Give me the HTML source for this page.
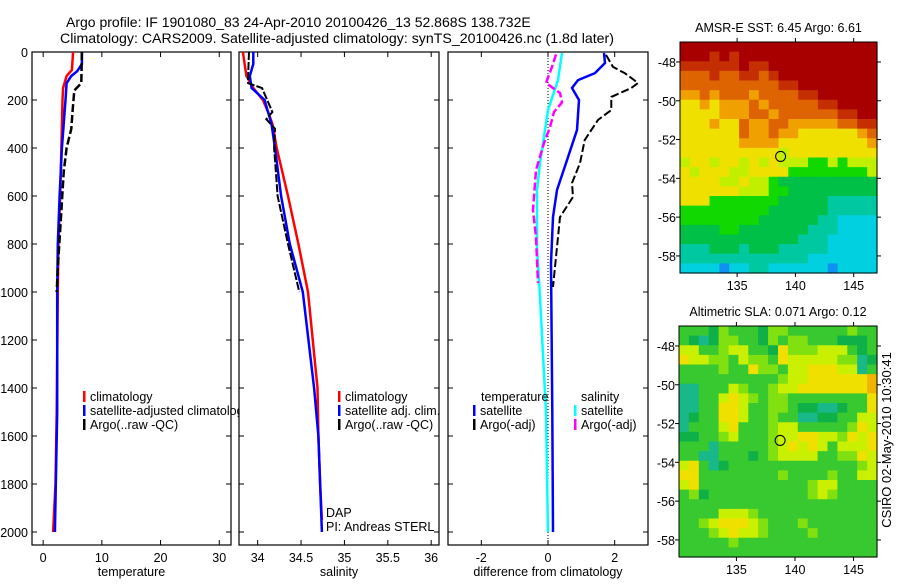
<!DOCTYPE html>
<html><head><meta charset="utf-8"><style>
html,body{margin:0;padding:0;background:#fff;}
svg text{font-family:"Liberation Sans",sans-serif;fill:#000;}
</style></head><body>
<svg id="fig" width="900" height="580" viewBox="0 0 900 580" xmlns="http://www.w3.org/2000/svg">
<text x="66" y="27" font-size="14">Argo profile: IF 1901080_83 24-Apr-2010 20100426_13 52.868S 138.732E</text>
<text x="60" y="43" font-size="14" textLength="554" lengthAdjust="spacingAndGlyphs">Climatology: CARS2009. Satellite-adjusted climatology: synTS_20100426.nc (1.8d later)</text>
<g id="g1"></g>
<g id="g2"></g>
<g id="g3"></g>
<g id="m1"></g>
<g id="m2"></g>
<text transform="translate(891,440) rotate(-90)" font-size="13" text-anchor="middle">CSIRO 02-May-2010 10:30:41</text>
</svg>
<script>
// ---- profile data ----
const tClimDepth = [0,75,100,150,200,400,600,800,1000,1500,1800,2000];
const tClimVal   = [5.1,4.9,4.0,3.4,3.3,3.1,2.9,2.6,2.5,2.3,2.1,1.7];
const tSatDepth  = [0,50,80,100,130,200,300,400,600,800,1000,1500,2000];
const tSatVal    = [6.6,6.6,5.8,4.8,4.0,3.8,3.5,3.2,2.8,2.5,2.4,2.4,2.0];
const tArgoDepth = [0,130,160,250,320,400,500,700,900,1000];
const tArgoVal   = [6.6,6.5,5.3,5.0,4.8,4.0,3.5,3.0,2.5,2.3];

const sClimDepth = [0,100,150,200,250,300,400,600,800,1000,1400,1600,1800,1950];
const sClimVal   = [33.83,33.87,33.95,34.06,34.12,34.17,34.22,34.35,34.47,34.58,34.69,34.70,34.72,34.74];
const sSatDepth  = [0,50,100,150,200,300,400,600,800,1000,1400,1600,2000];
const sSatVal    = [33.95,33.95,33.91,33.93,34.08,34.16,34.20,34.27,34.37,34.52,34.65,34.70,34.74];
const sArgoDepth = [0,100,130,150,200,250,280,320,400,500,600,800,1000];
const sArgoVal   = [33.9,33.89,33.89,34.05,34.11,34.17,34.10,34.20,34.19,34.21,34.23,34.35,34.48];

const dTSatDepth = [4,46,88,117,150,200,325,463,575,688,880,1500,2000];
const dTSatVal   = [1.68,1.71,1.41,0.9,0.72,0.93,0.87,0.54,0.27,0.15,0.09,0.13,0.15];
const dTArgoDepth= [12,62,88,129,150,187,242,283,367,463,546,604,688,813,979];
const dTArgoVal  = [1.74,1.95,2.3,2.7,2.5,1.9,1.9,1.5,1.1,0.96,0.72,0.75,0.36,0.27,0.15];
const dSSatDepth = [4,117,242,325,463,575,813,1021,1500,2000];
const dSSatVal   = [0.42,0.3,0.0,-0.09,-0.24,-0.33,-0.33,-0.24,-0.06,0.0];
const dSArgoDepth= [10,50,129,171,210,250,313,379,492,658,771,963];
const dSArgoVal  = [0.24,0.15,-0.06,0.36,0.42,0.18,0.06,-0.12,-0.36,-0.45,-0.36,-0.3];

const depthTicks = [0,200,400,600,800,1000,1200,1400,1600,1800,2000];
const tTicks = [0,10,20,30];
const sTicks = [34,34.5,35,35.5,36];
const sTickLabels = ["34","34.5","35","35.5","36"];
const dTicks = [-2,0,2];

// ---- map data ----
const m1Rows = [
"00000000000000000000","00010100000000000000","11111101100000000000","22212211210000000000",
"22222222221100000000","33232223222211000000","44343332322222110000","44443332232222221100",
"44434423322333332211","44444423323344444432","44444433334444444443","44444444445444444444",
"54454454545556656555","45444554444666666665","44445545567777777777","44444455566777777777",
"44466666667777788888","66666666677777788888","66666666777777889999","77776677777778889999",
"77777777777788899999","88877787778888899999","88888888888889999999","9999a9988999999a9999"];
const m1Colors = {"0":"#a80000","1":"#c42e00","2":"#dd6400","3":"#f0a000","4":"#f0e000","5":"#c0f000","6":"#10d800","7":"#00c048","8":"#00c8a0","9":"#00d0e0","a":"#1090f0"};
const m2Rows = [
"22213222133222222322","21013322132332221112","44223442215333444212","54433243325444443301",
"22223225332445554402","22222222223445555556","00222432234455555556","00224543233222222225",
"00225542233211001225","01225542232200112244","02224522234422222354","11223422234455443545",
"22202222234545424445","22002221234444223354","45201222222222222234","55222222223222232244",
"45222222222223442222","23122222222223432222","22222222222222222222","22224443222222222222",
"22345554322232222222","22234544322223222222","22222322222222222222","22222222222222222222"];
const m2Colors = {"0":"#18b888","1":"#10b048","2":"#38c830","3":"#80e010","4":"#c8f000","5":"#f0e000","6":"#f0b400"};
const lonTicks = [135,140,145];
const latTicks = [-48,-50,-52,-54,-56,-58];
const argoLon = 138.73, argoLat = -52.87;

const NS="http://www.w3.org/2000/svg";
function mk(parent, tag, attrs, txt){const e=document.createElementNS(NS,tag);for(const k in attrs)e.setAttribute(k,attrs[k]);if(txt!==undefined)e.textContent=txt;parent.appendChild(e);return e;}

const Y0=52, Y1=545;
function yD(d){return 52+d*0.24;}

function panel(g, L, R, xmin, xmax, xt, xtl, xlabel, ylabels){
  const xs=v=>L+(v-xmin)/(xmax-xmin)*(R-L);
  const fr=mk(g,'rect',{x:L,y:Y0,width:R-L,height:Y1-Y0,fill:'#fff',stroke:'#000','stroke-width':1.2});
  
  
  depthTicks.forEach(d=>{
    const y=yD(d);
    mk(g,'line',{x1:L,x2:L+5,y1:y,y2:y,stroke:'#000'});
    mk(g,'line',{x1:R-5,x2:R,y1:y,y2:y,stroke:'#000'});
    if(ylabels){const t=mk(g,'text',{x:28,y:y+5,'font-size':12.5,'text-anchor':'end'},String(d));
      
      }
  });
  xt.forEach((v,i)=>{
    const x=xs(v);
    mk(g,'line',{x1:x,x2:x,y1:Y0,y2:Y0+5,stroke:'#000'});
    mk(g,'line',{x1:x,x2:x,y1:Y1-5,y2:Y1,stroke:'#000'});
    const t=mk(g,'text',{x:x,y:562,'font-size':12.5,'text-anchor':'middle'},xtl[i]);
    
    
  });
  const xl=mk(g,'text',{x:(L+R)/2,y:576,'font-size':12.5,'text-anchor':'middle'},xlabel);
  
  
  return xs;
}
function line(g, xs, depths, vals, color, w, dash, name){
  const pts=depths.map((d,i)=>xs(vals[i]).toFixed(1)+','+yD(d).toFixed(1)).join(' ');
  const p=mk(g,'polyline',{points:pts,fill:'none',stroke:color,'stroke-width':w});
  if(dash)p.setAttribute('stroke-dasharray',dash);
  
  
}
function legend(g, x, y, color, label, name){
  mk(g,'rect',{x:x,y:y-10,width:2.5,height:11,fill:color});
  const t=mk(g,'text',{x:x+7,y:y,'font-size':12.5},label);
  
  
}

// Panel 1
const g1=document.getElementById('g1');
const xs1=panel(g1,32,231,-1.9,32,tTicks,tTicks.map(String),'temperature',true);
line(g1,xs1,tClimDepth,tClimVal,'#ff0000',2.5,null,'temp-climatology-line');
line(g1,xs1,tSatDepth,tSatVal,'#0000ff',2.5,null,'temp-satellite-line');
line(g1,xs1,tArgoDepth,tArgoVal,'#000',2.5,'8,3','temp-argo-line');
legend(g1,83,401,'#ff0000','climatology','legend-climatology');
legend(g1,83,415,'#0000ff','satellite-adjusted climatology','legend-satellite-adjusted');
legend(g1,83,429,'#000','Argo(..raw -QC)','legend-argo');

// Panel 2
const g2=document.getElementById('g2');
const xs2=panel(g2,239,439,33.785,36.09,sTicks,sTickLabels,'salinity',false);
line(g2,xs2,sClimDepth,sClimVal,'#ff0000',2.5,null,'sal-climatology-line');
line(g2,xs2,sSatDepth,sSatVal,'#0000ff',2.5,null,'sal-satellite-line');
line(g2,xs2,sArgoDepth,sArgoVal,'#000',2,'8,2','sal-argo-line');
legend(g2,338,401,'#ff0000','climatology','legend-climatology');
legend(g2,338,415,'#0000ff','satellite adj. clim.','legend-satellite-adj');
legend(g2,338,429,'#000','Argo(..raw -QC)','legend-argo');
mk(g2,'text',{x:326,y:517,'font-size':12.5},'DAP');
mk(g2,'text',{x:326,y:531,'font-size':12.5},'PI: Andreas STERL');

// Panel 3
const g3=document.getElementById('g3');
const xs3=panel(g3,448,648,-3,3,dTicks,dTicks.map(String),'difference from climatology',false);
const zl=mk(g3,'line',{x1:xs3(0),x2:xs3(0),y1:Y0,y2:Y1,stroke:'#000','stroke-width':1,'stroke-dasharray':'1,2'});

line(g3,xs3,dSSatDepth,dSSatVal,'#00ffff',2.5,null,'sal-diff-satellite-line');
line(g3,xs3,dSArgoDepth,dSArgoVal,'#ff00ff',2.5,'8,3','sal-diff-argo-line');
line(g3,xs3,dTSatDepth,dTSatVal,'#0000ff',2.5,null,'temp-diff-satellite-line');
line(g3,xs3,dTArgoDepth,dTArgoVal,'#000',2,'8,3','temp-diff-argo-line');
const lt=mk(g3,'text',{x:481,y:401,'font-size':12.5},'temperature');
legend(g3,473,415,'#0000ff','satellite','legend-temp-satellite');
legend(g3,473,429,'#000','Argo(-adj)','legend-temp-argo');
const ls=mk(g3,'text',{x:581,y:401,'font-size':12.5},'salinity');
legend(g3,574,415,'#00ffff','satellite','legend-sal-satellite');
legend(g3,574,429,'#ff00ff','Argo(-adj)','legend-sal-argo');

// Maps
function map(g, rows, colors, L, R, T, B, lonMin, lonMax, latTop, latBot, title, titleY, tickLabelY){
  const xs=v=>L+(v-lonMin)/(lonMax-lonMin)*(R-L);
  const ys=v=>T+(v-latTop)/(latBot-latTop)*(B-T);
  const nr=rows.length, nc=rows[0].length;
  const cw=(R-L)/nc, ch=(B-T)/nr;
  rows.forEach((row,r)=>{
    for(let c=0;c<nc;c++){
      const cell=mk(g,'rect',{x:(L+c*cw).toFixed(2),y:(T+r*ch).toFixed(2),width:(cw+0.6).toFixed(2),height:(ch+0.6).toFixed(2),fill:colors[row[c]]});
      
      
    }
  });
  mk(g,'rect',{x:L,y:T,width:R-L,height:B-T,fill:'none',stroke:'#000','stroke-width':1});
  lonTicks.forEach(v=>{const x=xs(v);
    mk(g,'line',{x1:x,x2:x,y1:T-4,y2:T,stroke:'#000'});
    mk(g,'line',{x1:x,x2:x,y1:B,y2:B+4,stroke:'#000'});
    const t=mk(g,'text',{x:x,y:tickLabelY,'font-size':12.5,'text-anchor':'middle'},String(v));
    
    });
  latTicks.forEach(v=>{const y=ys(v);
    mk(g,'line',{x1:L-4,x2:L,y1:y,y2:y,stroke:'#000'});
    mk(g,'line',{x1:R,x2:R+4,y1:y,y2:y,stroke:'#000'});
    const t=mk(g,'text',{x:L-4,y:y+5,'font-size':12.5,'text-anchor':'end'},String(v));
    
    });
  const c=mk(g,'circle',{cx:xs(argoLon),cy:ys(argoLat),r:5,fill:'none',stroke:'#000','stroke-width':1});
  
  
  const tt=mk(g,'text',{x:(L+R)/2,y:titleY,'font-size':12.5,'text-anchor':'middle'},title);
  
  
}
map(document.getElementById('m1'),m1Rows,m1Colors,680,877,42,273,130.1,147,-46.97,-58.88,'AMSR-E SST: 6.45 Argo: 6.61',32,290);
map(document.getElementById('m2'),m2Rows,m2Colors,679,877,326,557,130.1,147,-46.97,-58.88,'Altimetric SLA: 0.071 Argo: 0.12',316,574);
</script>
</body></html>
